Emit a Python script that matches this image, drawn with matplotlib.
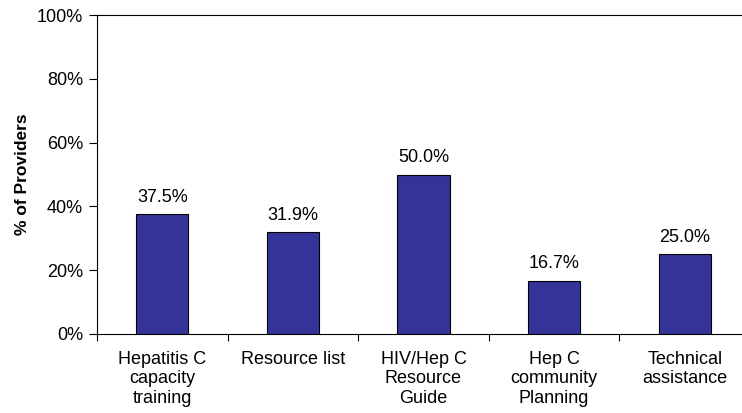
import matplotlib
matplotlib.use("Agg")
import matplotlib.pyplot as plt
from matplotlib.ticker import FuncFormatter, FixedLocator

categories = ["Hepatitis C\ncapacity\ntraining", "Resource list", "HIV/Hep C\nResource\nGuide",
              "Hep C\ncommunity\nPlanning", "Technical\nassistance"]
values = [37.5, 31.9, 50.0, 16.7, 25.0]
value_labels = ["37.5%", "31.9%", "50.0%", "16.7%", "25.0%"]

plt.rcParams['font.family'] = ['Liberation Sans', 'DejaVu Sans']

fig = plt.figure(figsize=(7.42, 4.13), dpi=100)
W, H = 742, 413
ax = fig.add_axes([97 / W, 1 - 334 / H, (750 - 97) / W, (334 - 15) / H])

x = list(range(len(categories)))
bars = ax.bar(x, values, width=0.4, color="#333399", edgecolor="black", linewidth=0.8, zorder=3)
for xi, v, lab in zip(x, values, value_labels):
    ax.text(xi, v + 2.6, lab, ha="center", va="bottom", fontsize=13)

ax.set_xlim(-0.5, len(categories) - 0.5)
ax.set_ylim(0, 100)
ax.set_yticks([0, 20, 40, 60, 80, 100])
ax.yaxis.set_major_formatter(FuncFormatter(lambda v, p: f"{int(v)}%"))
ax.tick_params(axis="y", labelsize=13, direction="out", length=6, width=0.8, pad=4)

ax.set_xticks(x)
ax.set_xticklabels(categories, fontsize=13, linespacing=1.2)
ax.tick_params(axis="x", length=0, pad=12)
ax.xaxis.set_minor_locator(FixedLocator([i - 0.5 for i in range(len(categories) + 1)]))
ax.tick_params(axis="x", which="minor", direction="out", length=5, width=0.8)

for s in ["left", "bottom", "top"]:
    ax.spines[s].set_linewidth(0.8)
ax.spines["right"].set_visible(False)

ax.set_ylabel("% of Providers", fontsize=12.5, fontweight="bold", labelpad=5)

fig.savefig("out.png", dpi=100)
